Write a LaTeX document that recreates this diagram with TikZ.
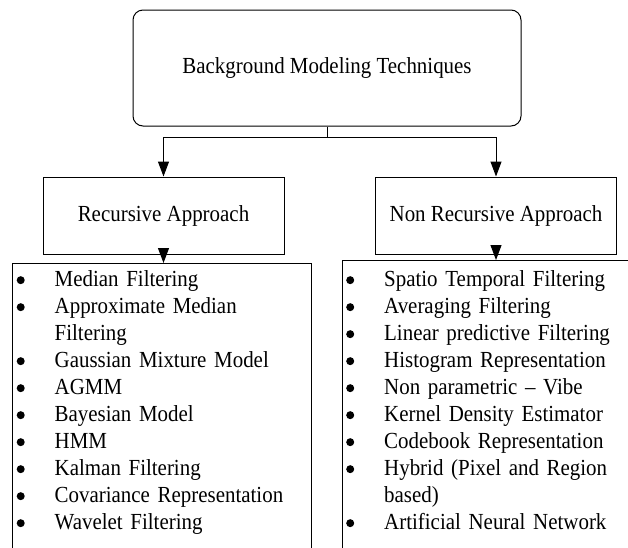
\documentclass[tikz,border=0pt]{standalone}
\usepackage{fontspec}
\setmainfont{Liberation Serif}[FakeStretch=0.91]
\usetikzlibrary{arrows.meta, positioning}

\newcommand{\dotitem}[1]{\makebox[38pt][l]{\raisebox{2pt}{\tikz\fill (0,0) circle (4pt);}}#1}
\newcommand{\dotcont}[1]{\hspace*{38pt}#1}

\begin{document}
\begin{tikzpicture}[x=1pt, y=-1pt, line width=1pt,
  >={Triangle[width=11pt, length=15pt]},
  every node/.style={font=\fontsize{23}{27}\selectfont},
  branchbox/.style={draw, minimum width=241pt, minimum height=77pt, inner sep=0pt},
  listbox/.style={draw, anchor=north west, align=left, text width=320pt,
    inner xsep=4pt, text depth=300pt}]
  \useasboundingbox (0,0) rectangle (628,547);
  \clip (0,0) rectangle (628,547);

  % Root
  \node[draw, rounded corners=10pt, minimum width=388pt, minimum height=116pt]
    (root) at (327,68) {Background Modeling Techniques};

  % Two approaches
  \node[branchbox] (rec) at (163.5,215.5) {Recursive Approach};
  \node[branchbox] (nonrec) at (496,215.5) {Non Recursive Approach};
  \coordinate (split) at (327,137);
  \draw (root.south) -- (split);
  \draw[->] (split) -| (rec.north);
  \draw[->] (split) -| (nonrec.north);

  % Technique lists
  \node[listbox, text width=290.5pt, inner ysep=7pt] (recList) at (12.5,263) {
    \dotitem{Median Filtering}\\
    \dotitem{Approximate Median}\\
    \dotcont{Filtering}\\
    \dotitem{Gaussian Mixture Model}\\
    \dotitem{AGMM}\\
    \dotitem{Bayesian Model}\\
    \dotitem{HMM}\\
    \dotitem{Kalman Filtering}\\
    \dotitem{Covariance Representation}\\
    \dotitem{Wavelet Filtering}};
  \node[listbox, inner ysep=10pt] (nonrecList) at (342,260) {
    \dotitem{Spatio Temporal Filtering}\\
    \dotitem{Averaging Filtering}\\
    \dotitem{Linear predictive Filtering}\\
    \dotitem{Histogram Representation}\\
    \dotitem{Non parametric -- Vibe}\\
    \dotitem{Kernel Density Estimator}\\
    \dotitem{Codebook Representation}\\
    \dotitem{Hybrid (Pixel and Region}\\
    \dotcont{based)}\\
    \dotitem{Artificial Neural Network}};
  \draw[->] (rec.south) -- (recList.north -| rec.south);
  \draw[->] (nonrec.south) -- (nonrecList.north -| nonrec.south);
\end{tikzpicture}
\end{document}
